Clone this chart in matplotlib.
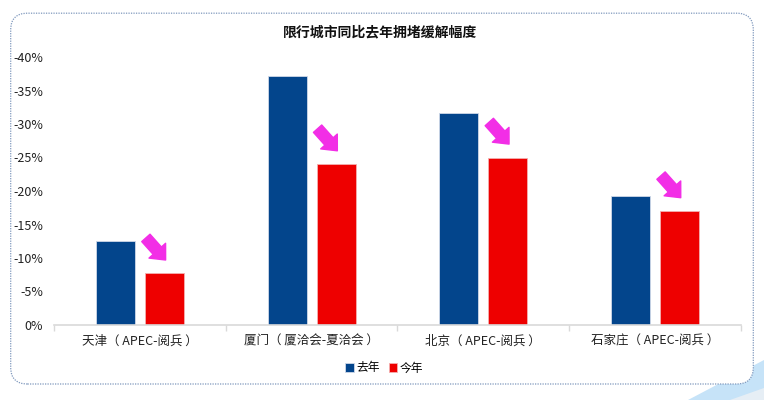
import matplotlib.pyplot as plt
from matplotlib.patches import FancyBboxPatch, FancyArrowPatch, Polygon
from matplotlib.ticker import FuncFormatter
import numpy as np

plt.rcParams['font.family'] = ['Noto Sans CJK SC', 'DejaVu Sans']

cities = ['天津（ APEC-阅兵 ）', '厦门（ 厦洽会-夏洽会 ）', '北京（ APEC-阅兵 ）', '石家庄（ APEC-阅兵 ）']
last_year = [-12.6, -37.2, -31.6, -19.3]
this_year = [-7.7, -24.0, -25.0, -17.0]
series_names = ['去年', '今年']

blue = '#03458C'
red = '#EE0000'
pink = '#F22EE6'

fig = plt.figure(figsize=(7.64, 4.0), dpi=100)
ax = fig.add_axes([0.0707, 0.1875, 0.899, 0.67])

x = np.arange(len(cities))
w = 0.227
off = 0.143
ax.bar(x - off, last_year, w, color=blue, edgecolor='#d0d8e8', linewidth=0.6, label=series_names[0])
ax.bar(x + off, this_year, w, color=red, edgecolor='#f4b0b0', linewidth=0.6, label=series_names[1])

# pink arrows above this year's bars
for i, v in enumerate(this_year):
    arr = FancyArrowPatch((i + 0.035, v - 5.3), (i + 0.15, v - 2.0),
                          arrowstyle='simple,head_length=9,head_width=16,tail_width=8',
                          mutation_scale=1, color=pink, shrinkA=0, shrinkB=0, zorder=5)
    ax.add_patch(arr)

ax.set_xlim(-0.5, len(cities) - 0.5)
ax.set_ylim(0, -40)
ax.set_yticks(np.arange(0, -41, -5))
ax.yaxis.set_major_formatter(FuncFormatter(lambda v, p: f'{v:.0f}%'))

ax.set_xticks(x)
ax.set_xticklabels(cities)
ax.set_xticks(np.arange(-0.5, len(cities), 0.5), minor=True)
ax.tick_params(axis='x', which='major', length=0, pad=7, labelsize=9, colors='#222222')
ax.tick_params(axis='x', which='minor', length=4, color='#d9d9d9', width=1)
ax.tick_params(axis='y', length=0, labelsize=9, colors='#222222', pad=8)

for s in ['top', 'right', 'left']:
    ax.spines[s].set_visible(False)
ax.spines['bottom'].set_color('#d9d9d9')
ax.spines['bottom'].set_linewidth(1.2)

fig.text(0.497, 0.918, '限行城市同比去年拥堵缓解幅度', ha='center', va='center',
         fontsize=10, fontweight='bold', color='#111111')

fig.legend(loc='center', bbox_to_anchor=(0.503, 0.08), ncol=2, frameon=False,
           fontsize=8.5, handlelength=0.7, handleheight=0.7, handletextpad=0.2,
           columnspacing=0.8)

# light decoration at lower right corner
fig.patches.append(Polygon([(0.90, 0.0), (1.0, 0.0), (1.0, 0.10)], closed=True,
                           transform=fig.transFigure, facecolor='#c6e3f8', edgecolor='none', zorder=0))
fig.patches.append(Polygon([(0.955, 0.0), (1.0, 0.0), (1.0, 0.03)], closed=True,
                           transform=fig.transFigure, facecolor='#e6eef5', edgecolor='none', zorder=0))

# dotted rounded frame
frame = FancyBboxPatch((0.014, 0.04), 0.972, 0.927, boxstyle='round,pad=0,rounding_size=0.022',
                       transform=fig.transFigure, facecolor='white', edgecolor='#7f98bd',
                       linewidth=0.9, linestyle=(0, (1, 1)), zorder=1, mutation_aspect=1.9)
fig.patches.append(frame)
ax.set_zorder(2)
ax.patch.set_alpha(0)

fig.savefig('out.png', dpi=100)
